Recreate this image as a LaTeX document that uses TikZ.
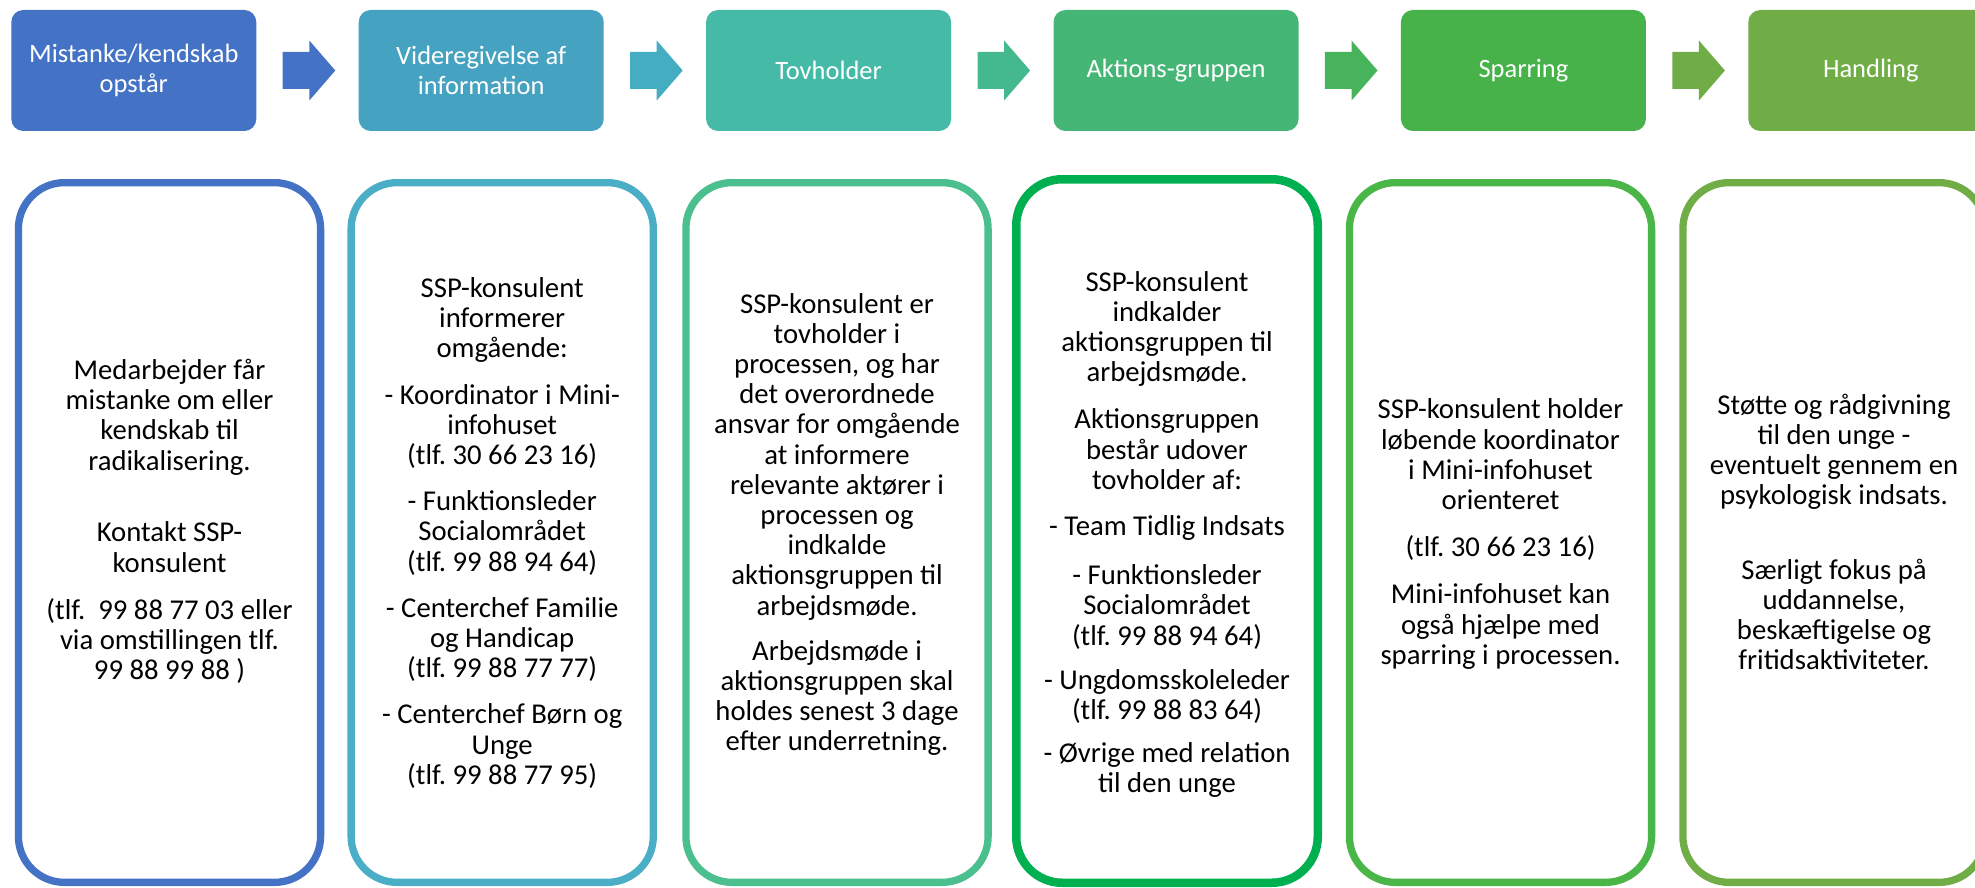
\documentclass[tikz,border=0pt]{standalone}
\usepackage{fontspec}
\setmainfont{Carlito}
\usetikzlibrary{calc}
\definecolor{ct1}{HTML}{4472C4}
\definecolor{ct2}{HTML}{45A3C1}
\definecolor{ct3}{HTML}{45BAA6}
\definecolor{ct4}{HTML}{46B676}
\definecolor{ct5}{HTML}{47B249}
\definecolor{ct6}{HTML}{70AD47}
\definecolor{ca1}{HTML}{4472C4}
\definecolor{ca2}{HTML}{44ADC1}
\definecolor{ca3}{HTML}{45B98E}
\definecolor{ca4}{HTML}{47B45B}
\definecolor{ca5}{HTML}{70AD47}
\definecolor{cb1}{HTML}{4472C4}
\definecolor{cb2}{HTML}{4AAFC6}
\definecolor{cb3}{HTML}{4CBF8E}
\definecolor{cb4}{HTML}{00B050}
\definecolor{cb5}{HTML}{4AB648}
\definecolor{cb6}{HTML}{70AD47}
\frenchspacing
\begin{document}
\begin{tikzpicture}[x=1pt,y=-1pt,
  topbox/.style={rounded corners=12pt, minimum width=245pt, minimum height=121pt,
    inner sep=0pt, text=white, align=center, font=\fontsize{26.5}{30}\selectfont},
  botbox/.style={rounded corners=46pt, line width=7.3pt, minimum width=302.2pt,
    minimum height=699.7pt, inner sep=0pt, fill=white},
  bottext/.style={align=center, text=black, inner sep=0pt,
    font=\fontsize{28.7}{30.2}\selectfont},
  blockarr/.pic={\fill (-24.8,-18.5) -- (1.8,-18.5) -- (1.8,-30) -- (27.8,0)
    -- (1.8,30) -- (1.8,18.5) -- (-24.8,18.5) -- cycle;}]
\useasboundingbox (0,0) rectangle (1975,888);
\fill[white] (0,0) rectangle (1975,888);
\clip (0,0) rectangle (1975,888);

% top row
\node[topbox, fill=ct1] (t1) at (133.8,70.5) {Mistanke/kendskab\\opstår};
\node[topbox, fill=ct2] (t2) at (481.2,70.5) {Videregivelse af\\information};
\node[topbox, fill=ct3] (t3) at (828.6,70.5) {Tovholder};
\node[topbox, fill=ct4] (t4) at (1176,70.5) {Aktions-gruppen};
\node[topbox, fill=ct5] (t5) at (1523.4,70.5) {Sparring};
\node[topbox, fill=ct6] (t6) at (1870.8,70.5) {\raisebox{5pt}{Handling}};

% arrows between the top boxes
\coordinate (a1) at ($(t1.east)!0.5!(t2.west)$);
\coordinate (a2) at ($(t2.east)!0.5!(t3.west)$);
\coordinate (a3) at ($(t3.east)!0.5!(t4.west)$);
\coordinate (a4) at ($(t4.east)!0.5!(t5.west)$);
\coordinate (a5) at ($(t5.east)!0.5!(t6.west)$);
\pic[color=ca1] at (a1) {blockarr};
\pic[color=ca2] at (a2) {blockarr};
\pic[color=ca3] at (a3) {blockarr};
\pic[color=ca4] at (a4) {blockarr};
\pic[color=ca5] at (a5) {blockarr};

% bottom boxes
\node[botbox, draw=cb1] (b1) at (169.5,532.5) {};
\node[botbox, draw=cb2] (b2) at (502.2,532.5) {};
\node[botbox, draw=cb3] (b3) at (837,532.5) {};
\node[botbox, draw=cb4, line width=8.5pt, minimum width=301.5pt, minimum height=703.5pt] (b4) at (1167,531) {};
\node[botbox, draw=cb5] (b5) at (1500.5,532.5) {};
\node[botbox, draw=cb6] (b6) at (1834,532.5) {};

% bottom texts
\node[bottext] (x1) at (169.5,521.5) {Medarbejder får\\mistanke om eller\\kendskab til\\radikalisering.\\[41.6pt]
Kontakt SSP-\\konsulent\\[17pt]
(tlf.\ \ 99 88 77 03 eller\\via omstillingen tlf.\\99 88 99 88 )};

\node[bottext] (x2) at (502.2,533) {SSP-konsulent\\informerer\\omgående:\\[16pt]
- Koordinator i Mini-\\infohuset\\(tlf. 30 66 23 16)\\[16pt]
- Funktionsleder\\Socialområdet\\(tlf. 99 88 94 64)\\[16pt]
- Centerchef Familie\\og Handicap\\(tlf. 99 88 77 77)\\[16pt]
- Centerchef Børn og\\Unge\\(tlf. 99 88 77 95)};

\node[bottext] (x3) at (837,524.5) {SSP-konsulent er\\tovholder i\\processen, og har\\det overordnede\\ansvar for omgående\\at informere\\relevante aktører i\\processen og\\indkalde\\aktionsgruppen til\\arbejdsmøde.\\[15pt]
Arbejdsmøde i\\aktionsgruppen skal\\holdes senest 3 dage\\efter underretning.};

\node[bottext] (x4) at (1167,534.5) {SSP-konsulent\\indkalder\\aktionsgruppen til\\arbejdsmøde.\\[17pt]
Aktionsgruppen\\består udover\\tovholder af:\\[16pt]
- Team Tidlig Indsats\\[19pt]
- Funktionsleder\\Socialområdet\\(tlf. 99 88 94 64)\\[14pt]
- Ungdomsskoleleder\\(tlf. 99 88 83 64)\\[13pt]
- Øvrige med relation\\til den unge};

\node[bottext] (x5) at (1500.5,534) {SSP-konsulent holder\\løbende koordinator\\i Mini-infohuset\\orienteret\\[17pt]
(tlf. 30 66 23 16)\\[17pt]
Mini-infohuset kan\\også hjælpe med\\sparring i processen.};

\node[bottext] (x6) at (1834,532) {Støtte og rådgivning\\til den unge -\\eventuelt gennem en\\psykologisk indsats.\\[44pt]
Særligt fokus på\\uddannelse,\\beskæftigelse og\\fritidsaktiviteter.};
\end{tikzpicture}
\end{document}
